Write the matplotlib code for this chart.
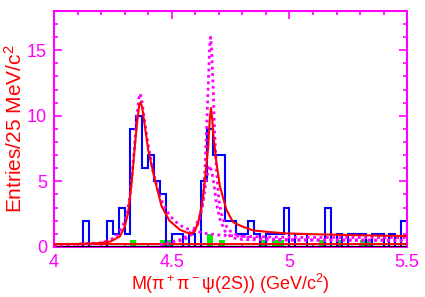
import matplotlib
matplotlib.use("Agg")
import matplotlib.pyplot as plt
import numpy as np

plt.rcParams['font.family'] = ['Liberation Sans', 'DejaVu Sans']
plt.rcParams['mathtext.fontset'] = 'custom'
plt.rcParams['mathtext.rm'] = 'Liberation Sans'
plt.rcParams['mathtext.it'] = 'Liberation Sans'

# 25 MeV bins from 4.0 to 5.5 GeV
edges = np.linspace(4.0, 5.5, 61)

# data entries per bin
counts = [0, 0, 0, 0, 0, 2, 0, 0, 0, 2,
          1, 3, 1, 9, 10, 6, 7, 5, 4, 0,
          1, 1, 0, 1, 0, 5, 9, 7, 7, 2,
          2, 1, 1, 2, 1, 0, 1, 1, 1, 3,
          0, 1, 1, 0, 0, 0, 3, 0, 1, 0,
          1, 1, 1, 0, 1, 1, 0, 1, 0, 2]

# sideband (green)
sideband = [0, 0, 0, 0, 0, 0, 0, 0, 0, 0,
            0, 0, 0, 0.5, 0, 0, 0, 0, 0.5, 0.5,
            0, 0, 0, 0, 0, 0, 1.0, 0, 0.5, 0,
            0, 0, 0, 0, 0, 0.5, 0, 0.5, 0.5, 0,
            0, 0, 0, 0, 0, 0.5, 0, 0, 0.5, 0,
            0, 0, 0.5, 0.5, 0, 0, 0, 0, 0, 0]

# total fit (red solid)
fit_x = [4.00, 4.10, 4.19, 4.24, 4.28, 4.30, 4.315, 4.33, 4.34, 4.352, 4.362,
         4.368, 4.375, 4.386, 4.40, 4.41, 4.43, 4.457, 4.49, 4.535, 4.577,
         4.595, 4.612, 4.627, 4.641, 4.655, 4.662, 4.667, 4.672, 4.676, 4.69,
         4.705, 4.733, 4.76, 4.775, 4.80, 4.846, 4.90, 4.988, 5.10, 5.27, 5.50]
fit_y = [0.20, 0.22, 0.28, 0.40, 0.80, 1.5, 2.6, 4.9, 7.0, 9.3, 10.8,
         11.05, 10.6, 9.2, 7.4, 6.6, 5.0, 3.1, 2.0, 1.3, 1.0,
         1.1, 1.8, 3.05, 5.1, 7.6, 9.8, 10.6, 9.8, 8.7, 6.4,
         4.6, 2.8, 1.9, 1.75, 1.55, 1.25, 1.15, 1.02, 0.96, 0.89, 0.82]

# background (red, flat)
bkg_x = [4.0, 5.5]
bkg_y = [0.25, 0.25]

# Y(4360) component (magenta dotted)
c1_x = [4.00, 4.20, 4.26, 4.29, 4.31, 4.325, 4.338, 4.35, 4.36, 4.366, 4.373,
        4.385, 4.40, 4.42, 4.45, 4.48, 4.51, 4.54, 4.57, 4.60, 4.65, 4.70,
        4.80, 5.00, 5.50]
c1_y = [0.10, 0.30, 0.70, 1.5, 2.5, 4.2, 6.8, 9.5, 11.3, 11.7, 11.2,
        9.6, 7.8, 5.8, 3.8, 2.7, 2.0, 1.6, 1.35, 1.2, 1.0, 0.9,
        0.8, 0.72, 0.70]

# Y(4660) component, solution a
c2_x = [4.45, 4.55, 4.59, 4.615, 4.63, 4.643, 4.655, 4.663, 4.671, 4.68,
        4.69, 4.705, 4.726, 4.754, 4.80, 5.00, 5.50]
c2_y = [0.15, 0.5, 1.0, 1.9, 3.0, 4.6, 5.9, 6.2, 5.7, 4.7,
        3.3, 2.1, 1.2, 0.7, 0.55, 0.5, 0.48]

# Y(4660) component, solution b
c3_x = [4.45, 4.55, 4.60, 4.62, 4.634, 4.641, 4.648, 4.655, 4.661, 4.665,
        4.669, 4.676, 4.682, 4.69, 4.70, 4.715, 4.74, 4.78, 4.85, 5.00, 5.50]
c3_y = [0.15, 0.6, 1.5, 2.4, 3.6, 5.9, 8.9, 12.2, 15.2, 16.0,
        15.2, 12.2, 8.9, 5.9, 3.6, 2.2, 1.3, 0.85, 0.65, 0.55, 0.5]

mag = '#ff00ff'

fig = plt.figure(figsize=(4.25, 2.97), dpi=100)
ax = fig.add_axes([0.127, 0.169, 0.831, 0.794])

ax.stairs(sideband, edges, fill=True, color='#00ee00', zorder=1)
ax.stairs(counts, edges, color='#0000ff', lw=1.5, zorder=2)
ax.plot([4.0, 5.5], [0.07, 0.07], color='black', lw=1.0, zorder=3)
ax.plot(bkg_x, bkg_y, color='red', lw=1.4, zorder=4)
dots = (0, (1.0, 1.3))
ax.plot(c1_x, c1_y, color=mag, lw=2.0, ls=dots, zorder=4)
ax.plot(c2_x, c2_y, color=mag, lw=2.0, ls=dots, zorder=4)
ax.plot(c3_x, c3_y, color=mag, lw=2.0, ls=dots, zorder=4)
ax.plot(fit_x, fit_y, color='red', lw=1.5, zorder=5)

ax.set_xlim(4.0, 5.5)
ax.set_ylim(0, 18)
ax.set_xticks([4, 4.5, 5, 5.5])
ax.set_xticklabels(['4', '4.5', '5', '5.5'])
ax.set_xticks(np.arange(4.0, 5.5, 0.1), minor=True)
ax.set_yticks([0, 5, 10, 15])
ax.set_yticks(np.arange(0, 18, 1), minor=True)
ax.tick_params(which='both', direction='in', top=True, right=True,
               color=mag, labelcolor=mag, labelsize=13, width=1.2)
ax.tick_params(which='major', length=6, pad=5)
ax.tick_params(which='minor', length=3)
for s in ax.spines.values():
    s.set_color(mag)
    s.set_linewidth(1.5)

ax.set_xlabel(r'M($\mathrm{\pi^+\pi^-\psi}$(2S)) (GeV/c$^2$)', color='red',
              fontsize=13, labelpad=1)
ax.set_ylabel(r'Entries/25 MeV/c$^2$', color='red', fontsize=15, labelpad=1)

fig.savefig('out.png', dpi=100)
